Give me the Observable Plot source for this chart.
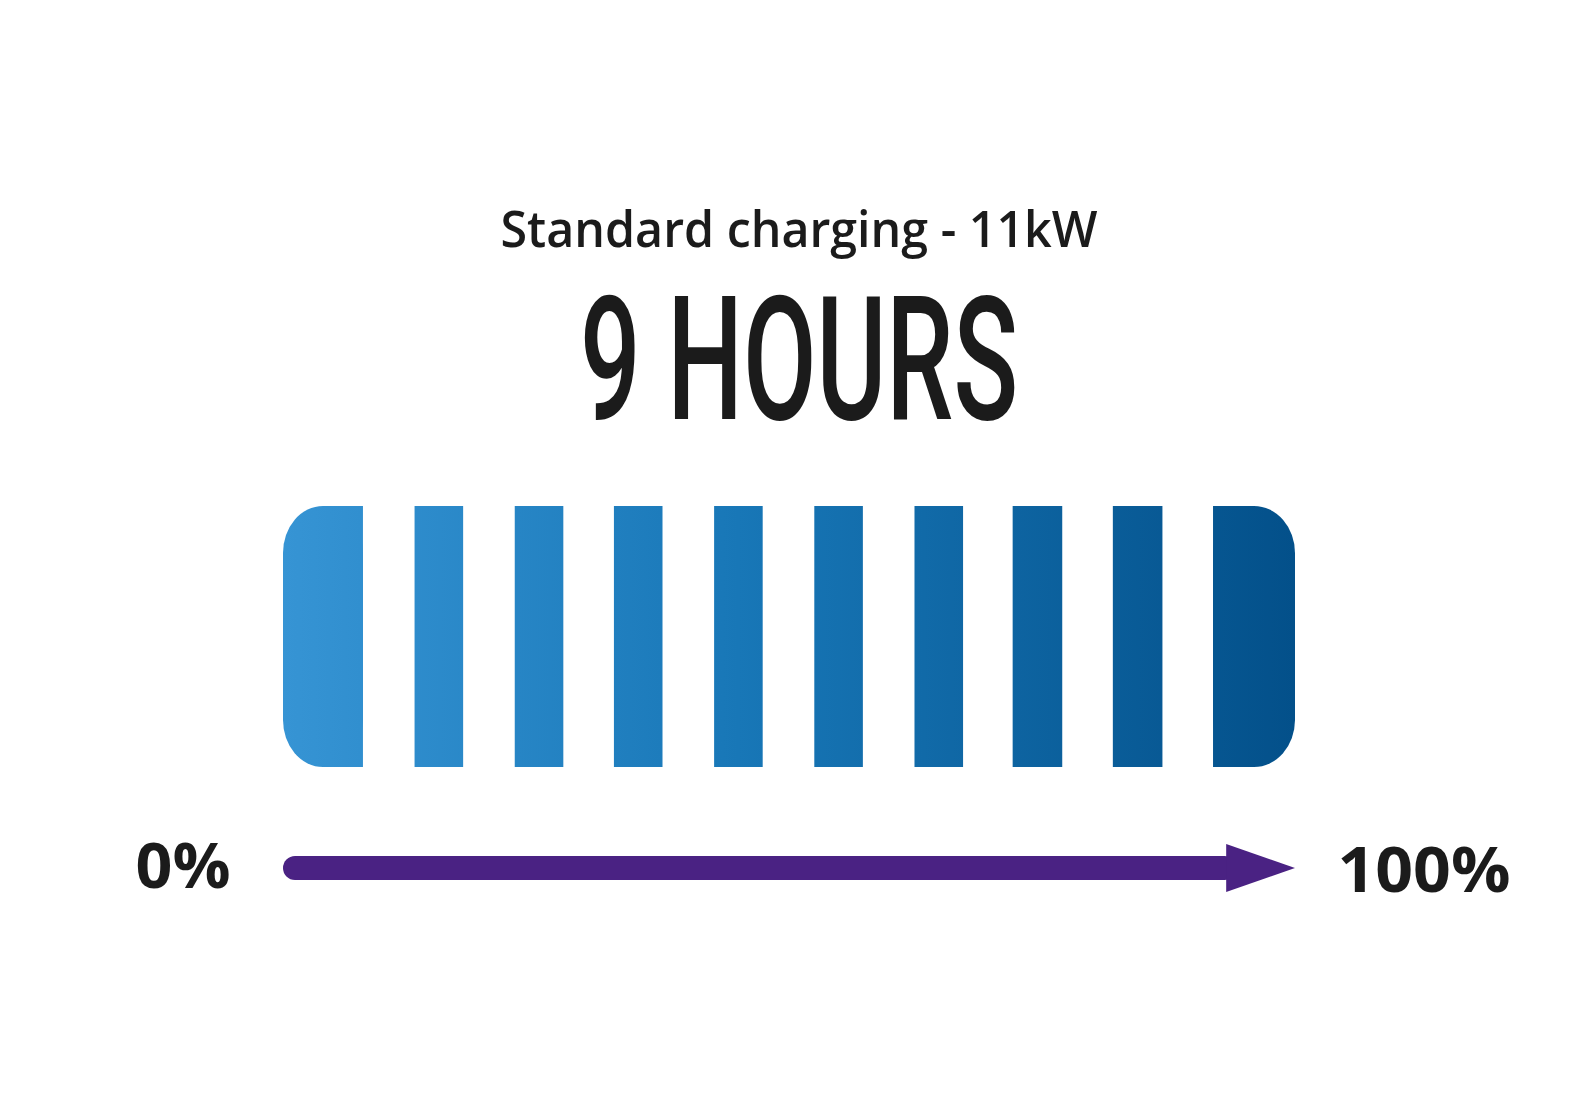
<!DOCTYPE html>
<html>
<head>
<meta charset="utf-8">
<script src="https://cdn.jsdelivr.net/npm/d3@7"></script>
<script src="https://cdn.jsdelivr.net/npm/@observablehq/plot@0.6"></script>
<style>
  html, body { margin: 0; padding: 0; background: #ffffff; overflow: hidden; }
  #chart svg { display: block; max-width: none; }
</style>
</head>
<body>
<div id="chart"></div>
<script>
// ---- data ----
const title = "Standard charging - 11kW";
const headline = "9 HOURS";
const barIndex = [1, 2, 3, 4, 5, 6, 7, 8, 9, 10];
const barStart = [0, 13.0, 22.9, 32.7, 42.6, 52.5, 62.4, 72.1, 82.0, 91.9];   // % of charge
const barEnd   = [7.9, 17.8, 27.7, 37.5, 47.4, 57.3, 67.2, 77.0, 86.9, 100];
const arrowFrom = 0;     // %
const arrowTo = 100;     // %
const arrowHeadStart = 93.2; // %
const endLabels = ["0%", "100%"];

// ---- tables ----
const bars = barIndex.map((i, k) => ({i, x1: barStart[k], x2: barEnd[k]}));
const middleBars = bars.filter(d => d.i !== 1 && d.i !== barIndex.length);
const capBars = bars.filter(d => d.i === 1 || d.i === barIndex.length);
const arrowY = -0.387;
const shaftHalf = 0.046;
const headHalf = 0.092;
const shaft = [{x1: arrowFrom, x2: arrowHeadStart + 1, y1: arrowY - shaftHalf, y2: arrowY + shaftHalf}];
const head = [
  {x: arrowHeadStart, lo: arrowY - headHalf, hi: arrowY + headHalf},
  {x: arrowTo, lo: arrowY, hi: arrowY}
];
const fillGrad = "url(#charge-grad)";
const purple = "#4a2283";
const ink = "#1b1b1b";

const svg = Plot.plot({
  width: 1575,
  height: 1107,
  marginTop: 0, marginRight: 0, marginBottom: 0, marginLeft: 0,
  style: {background: "#ffffff", overflow: "visible"},
  x: {domain: [0, 100], range: [283, 1295], axis: null},
  y: {domain: [0, 1], range: [767, 506], axis: null},
  marks: [
    Plot.rect(middleBars, {x1: "x1", x2: "x2", y1: 0, y2: 1, fill: fillGrad}),
    Plot.rect(capBars, {x1: "x1", x2: "x2", y1: 0, y2: 1, rx: 41, ry: 47, fill: fillGrad}),
    Plot.rect(capBars, {
      x1: d => d.i === 1 ? (d.x1 + d.x2) / 2 : d.x1,
      x2: d => d.i === 1 ? d.x2 : (d.x1 + d.x2) / 2,
      y1: 0, y2: 1, fill: fillGrad
    }),
    Plot.rect(shaft, {x1: "x1", x2: "x2", y1: "y1", y2: "y2", rx: 12, fill: purple}),
    Plot.areaY(head, {x: "x", y1: "lo", y2: "hi", fill: purple, curve: "linear"}),
    Plot.text([endLabels[0]], {x: arrowFrom, y: arrowY, text: d => d, textAnchor: "end", dx: -53, dy: 0,
      fontSize: 62, fontWeight: 700, fontFamily: "Open Sans", fill: ink}),
    Plot.text([endLabels[1]], {x: arrowTo, y: arrowY, text: d => d, textAnchor: "start", dx: 42, dy: 4,
      fontSize: 62, fontWeight: 700, fontFamily: "Open Sans", fill: ink}),
    Plot.text([title], {frameAnchor: "top", lineAnchor: "bottom", dy: 246, dx: 11, text: d => d,
      fontSize: 51, fontWeight: 600, fontFamily: "Open Sans", fill: ink}),
    Plot.text([headline], {frameAnchor: "top", lineAnchor: "bottom", dy: 418, dx: 11, text: d => d,
      fontSize: 173, fontWeight: 500, fontFamily: "Roboto", fill: ink})
  ]
});

// gradient across the battery, in the x scale's pixel space
const xs = svg.scale("x");
const defs = d3.select(svg).insert("defs", ":first-child");
const grad = defs.append("linearGradient")
  .attr("id", "charge-grad")
  .attr("gradientUnits", "userSpaceOnUse")
  .attr("x1", xs.apply(arrowFrom)).attr("x2", xs.apply(arrowTo))
  .attr("y1", 0).attr("y2", 0);
[[0, "#3694d4"], [0.45, "#1877b7"], [1, "#03508a"]].forEach(([o, c]) =>
  grad.append("stop").attr("offset", o).attr("stop-color", c));

// fit text widths to the reference layout
const fitWidths = new Map([[title, 597], [headline, 438], [endLabels[0], 95], [endLabels[1], 173]]);
d3.select(svg).selectAll("text").each(function () {
  const t = this.textContent;
  if (fitWidths.has(t)) {
    this.setAttribute("textLength", fitWidths.get(t));
    this.setAttribute("lengthAdjust", "spacingAndGlyphs");
  }
});

document.getElementById("chart").appendChild(svg);
</script>
</body>
</html>
